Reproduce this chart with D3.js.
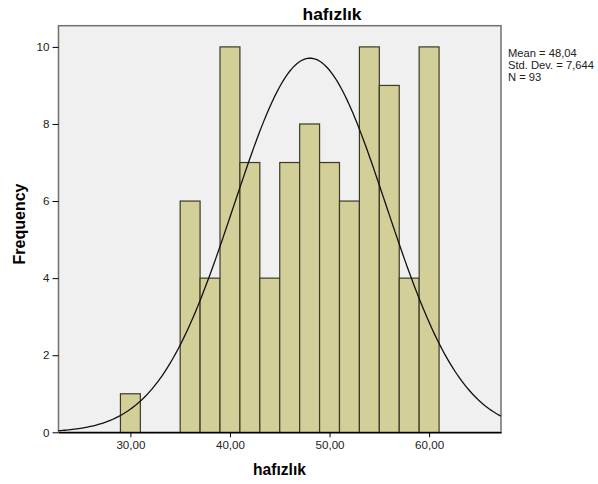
<!DOCTYPE html>
<html>
  <head>
    <meta charset="utf-8">
    <title>hafızlık</title>
    <script src="https://cdn.jsdelivr.net/npm/d3@7"></script>
    <style>
      body { margin: 0; background: #fff; }
      text { font-family: "Liberation Sans", Arial, sans-serif; }
    </style>
  </head>
  <body>
    <script>
      // histogram bins (lower edge, upper edge) and counts
      var binStart = [29, 35, 37, 39, 41, 43, 45, 47, 49, 51, 53, 55, 57, 59];
      var binEnd   = [31, 37, 39, 41, 43, 45, 47, 49, 51, 53, 55, 57, 59, 61];
      var counts   = [1, 6, 4, 10, 7, 4, 7, 8, 7, 6, 10, 9, 4, 10];
      var xTicks = [30, 40, 50, 60];
      var yTicks = [0, 2, 4, 6, 8, 10];
      var statLines = ["Mean = 48,04", "Std. Dev. = 7,644", "N = 93"];
      var mean = 48.04, sd = 7.644, n = 93, binWidth = 2;

      var w = 598, h = 484;
      var pLeft = 58.5, pRight = 501, pTop = 25.7, pBottom = 432.3;

      var svg = d3.select("body").append("svg")
        .attr("width", w)
        .attr("height", h);

      var x = d3.scaleLinear().domain([22.78, 67.22]).range([pLeft, pRight]);
      var y = d3.scaleLinear().domain([0, 10.55]).range([pBottom, pTop]);

      // plot background
      svg.append("rect")
        .attr("x", pLeft).attr("y", pTop)
        .attr("width", pRight - pLeft).attr("height", pBottom - pTop)
        .attr("fill", "#f0f0f0")
        .attr("stroke", "#707070")
        .attr("stroke-width", 1.5);

      // bars
      svg.selectAll("rect.bar")
        .data(counts)
        .enter()
        .append("rect")
        .attr("class", "bar")
        .attr("x", function(d, i) { return x(binStart[i]); })
        .attr("y", function(d) { return y(d); })
        .attr("width", function(d, i) { return x(binEnd[i]) - x(binStart[i]); })
        .attr("height", function(d) { return pBottom - y(d); })
        .attr("fill", "#d3cf98")
        .attr("stroke", "#3a3a26")
        .attr("stroke-width", 1.2);

      // normal curve from mean / sd
      var pts = d3.range(22.78, 67.22, 0.2).concat([67.22]);
      var curve = d3.line()
        .x(function(v) { return x(v); })
        .y(function(v) {
          var z = (v - mean) / sd;
          return y(n * binWidth * Math.exp(-0.5 * z * z) / (sd * Math.sqrt(2 * Math.PI)));
        });
      svg.append("path")
        .datum(pts)
        .attr("d", curve)
        .attr("fill", "none")
        .attr("stroke", "#111")
        .attr("stroke-width", 1.3);

      // axes
      var xAxis = d3.axisBottom(x)
        .tickValues(xTicks)
        .tickSize(5)
        .tickSizeOuter(0)
        .tickFormat(function(d) { return d3.format(".2f")(d).replace(".", ","); });
      var gx = svg.append("g")
        .attr("transform", "translate(0," + pBottom + ")")
        .call(xAxis);
      gx.select(".domain").attr("stroke", "#000").attr("stroke-width", 1.5);
      gx.selectAll("text").attr("font-size", 11.6).attr("fill", "#222")
        .attr("font-family", "'Liberation Sans', Arial, sans-serif");

      var yAxis = d3.axisLeft(y).tickValues(yTicks).tickSize(6);
      var gy = svg.append("g")
        .attr("transform", "translate(" + pLeft + ",0)")
        .call(yAxis);
      gy.select(".domain").remove();
      gy.selectAll("text").attr("font-size", 11.6).attr("fill", "#222")
        .attr("font-family", "'Liberation Sans', Arial, sans-serif");

      // titles
      svg.append("text")
        .attr("x", 332).attr("y", 20)
        .attr("text-anchor", "middle")
        .attr("font-size", 17.4).attr("font-weight", "bold")
        .text("hafızlık");
      svg.append("text")
        .attr("x", 279.5).attr("y", 475)
        .attr("text-anchor", "middle")
        .attr("font-size", 15.6).attr("font-weight", "bold")
        .text("hafızlık");
      svg.append("text")
        .attr("transform", "translate(25,224) rotate(-90)")
        .attr("text-anchor", "middle")
        .attr("font-size", 16).attr("font-weight", "bold")
        .text("Frequency");

      // stats box
      svg.selectAll("text.stat")
        .data(statLines)
        .enter()
        .append("text")
        .attr("class", "stat")
        .attr("x", 508)
        .attr("y", function(d, i) { return 56.5 + i * 12; })
        .attr("font-size", 11.2)
        .attr("fill", "#222")
        .text(function(d) { return d; });
    </script>
  </body>
</html>
